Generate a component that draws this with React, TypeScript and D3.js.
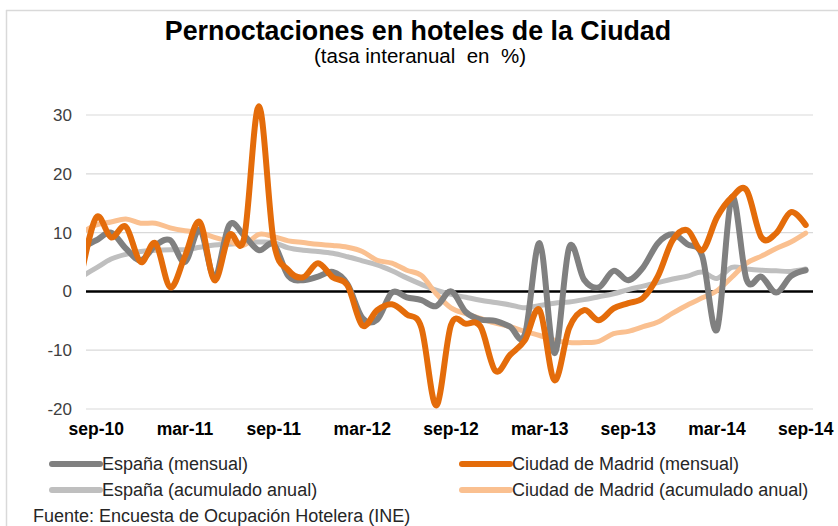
import React from "react";
import * as d3 from "d3";

const months = [
  "ago-10", "sep-10", "oct-10", "nov-10", "dic-10", "ene-11", "feb-11", "mar-11", "abr-11", "may-11",
  "jun-11", "jul-11", "ago-11", "sep-11", "oct-11", "nov-11", "dic-11", "ene-12", "feb-12", "mar-12",
  "abr-12", "may-12", "jun-12", "jul-12", "ago-12", "sep-12", "oct-12", "nov-12", "dic-12", "ene-13",
  "feb-13", "mar-13", "abr-13", "may-13", "jun-13", "jul-13", "ago-13", "sep-13", "oct-13", "nov-13",
  "dic-13", "ene-14", "feb-14", "mar-14", "abr-14", "may-14", "jun-14", "jul-14", "ago-14", "sep-14",
];

const tickMonths = ["sep-10", "mar-11", "sep-11", "mar-12", "sep-12", "mar-13", "sep-13", "mar-14", "sep-14"];
const yTicks = [30, 20, 10, 0, -10, -20];

const espanaMensual = [
  7.5, 8.7, 10.0, 7.3, 5.3, 7.8, 8.7, 5.0, 10.5, 2.5,
  11.3, 9.5, 7.0, 8.0, 2.6, 1.9, 2.5, 3.3, 1.2, -4.5,
  -4.8, -0.2, -1.0, -1.5, -2.5, 0.0, -3.5, -4.8, -5.0, -6.0,
  -7.3, 8.2, -10.5, 7.5, 2.0, 0.7, 3.5, 1.9, 4.1, 8.2,
  9.7, 8.0, 6.0, -6.5, 16.0, 2.0, 2.5, -0.2, 2.6, 3.6,
];

const madridMensual = [
  3.0, 12.6, 9.2, 11.0, 5.0, 8.2, 0.7, 6.0, 11.8, 1.9,
  9.6, 9.0, 31.5, 8.5, 3.6, 2.4, 4.8, 2.4, 1.0, -5.8,
  -3.2, -2.2, -3.9, -6.2, -19.4, -5.7, -5.5, -6.0, -13.5, -10.8,
  -8.3, -3.2, -15.1, -6.2, -3.2, -4.9, -2.9, -2.0, -1.1, 2.6,
  8.7, 10.4, 7.0, 12.6, 16.0, 17.2, 9.2, 9.9, 13.5, 11.3,
];

const espanaAcum = [
  2.5, 4.0, 5.5, 6.3, 6.8, 7.0, 7.1, 7.1, 7.5, 7.9,
  8.0, 8.3, 8.4, 8.3, 7.4, 7.0, 6.8, 6.5, 5.9, 5.2,
  4.5, 3.5, 2.3, 1.2, 0.2, -0.5, -1.0, -1.5, -1.9, -2.3,
  -2.8, -2.4, -2.0, -1.8, -1.4, -0.9, -0.4, 0.3, 0.9, 1.5,
  2.1, 2.6, 3.3, 2.2, 4.1, 3.8, 3.6, 3.5, 3.4, 3.8,
];

const madridAcum = [
  10.0, 11.3, 11.8, 12.3, 11.6, 11.6, 10.8, 10.3, 10.0, 9.2,
  8.5, 7.9, 9.7, 9.3, 8.6, 8.3, 8.0, 7.8, 7.5, 6.8,
  5.3, 4.8, 3.6, 2.7, -0.4, -2.8, -3.8, -4.6, -5.4, -6.0,
  -6.8, -7.5, -8.3, -8.7, -8.7, -8.5, -7.2, -6.8, -6.0, -5.2,
  -3.7, -2.3, -1.1, 0.1, 2.4, 4.8, 6.0, 7.3, 8.4, 9.9,
];

const seriesNames = [
  "España (mensual)",
  "Ciudad de Madrid (mensual)",
  "España (acumulado anual)",
  "Ciudad de Madrid (acumulado anual)",
];

const FONT = "'Liberation Sans', Arial, sans-serif";

export default function App() {
  const W = 838;
  const H = 526;
  const plotLeft = 86;
  const plotRight = 813;

  const x = d3.scalePoint<string>().domain(months).range([81.52, 805.7]);
  const y = d3.scaleLinear().domain([-20, 30]).range([409, 115]);

  const line = d3
    .line<number>()
    .x((_, i) => x(months[i]) as number)
    .y((d) => y(d))
    .curve(d3.curveCatmullRom.alpha(0));

  const series = [
    { name: seriesNames[2], data: espanaAcum, color: "#BFBFBF", width: 5 },
    { name: seriesNames[3], data: madridAcum, color: "#FAC090", width: 5 },
    { name: seriesNames[0], data: espanaMensual, color: "#808080", width: 6 },
    { name: seriesNames[1], data: madridMensual, color: "#E46C0A", width: 6 },
  ];

  const legend = [
    { name: seriesNames[0], color: "#808080", lx: 52, ly: 464 },
    { name: seriesNames[1], color: "#E46C0A", lx: 462, ly: 464 },
    { name: seriesNames[2], color: "#BFBFBF", lx: 52, ly: 490 },
    { name: seriesNames[3], color: "#FAC090", lx: 462, ly: 490 },
  ];

  return (
    <svg
      width={W}
      height={H}
      style={{ position: "absolute", left: 0, top: 0, background: "#fff" }}
      fontFamily={FONT}
    >
      <rect x={0} y={0} width={W} height={H} fill="#fff" />
      <line x1={6.5} y1={10} x2={6.5} y2={H} stroke="#D9D9D9" strokeWidth={1.5} />
      <line x1={6} y1={10.5} x2={W} y2={10.5} stroke="#D9D9D9" strokeWidth={1.5} />

      <text x={418} y={40} textAnchor="middle" fontSize={26.8} fontWeight="bold" fill="#000">
        Pernoctaciones en hoteles de la Ciudad
      </text>
      <text x={420} y={63} textAnchor="middle" fontSize={20.5} fill="#000" style={{ whiteSpace: "pre" }}>
        {"(tasa interanual  en  %)"}
      </text>

      <defs>
        <clipPath id="plotClip">
          <rect x={plotLeft} y={90} width={plotRight - plotLeft} height={340} />
        </clipPath>
      </defs>

      {yTicks.map((t) =>
        t === 0 ? null : (
          <line key={"g" + t} x1={plotLeft} x2={plotRight} y1={y(t)} y2={y(t)} stroke="#D9D9D9" strokeWidth={1.2} />
        )
      )}
      {yTicks.map((t) => (
        <text key={"yl" + t} x={72} y={y(t)} dy="0.35em" textAnchor="end" fontSize={17} fill="#404040">
          {t}
        </text>
      ))}
      <line x1={plotLeft} x2={plotRight} y1={y(0)} y2={y(0)} stroke="#000" strokeWidth={2.5} />

      <g clipPath="url(#plotClip)">
        {series.map((s) => (
          <path
            key={s.name}
            d={line(s.data) || ""}
            fill="none"
            stroke={s.color}
            strokeWidth={s.width}
            strokeLinejoin="round"
            strokeLinecap="round"
          />
        ))}
      </g>

      {tickMonths.map((m) => (
        <text key={m} x={x(m) as number} y={435} textAnchor="middle" fontSize={17.5} fontWeight="bold" fill="#000">
          {m}
        </text>
      ))}

      {legend.map((l) => (
        <g key={l.name}>
          <line x1={l.lx} x2={l.lx + 48} y1={l.ly} y2={l.ly} stroke={l.color} strokeWidth={6} strokeLinecap="round" />
          <text x={l.lx + 50} y={l.ly} dy="0.35em" fontSize={18} fill="#262626">
            {l.name}
          </text>
        </g>
      ))}

      <text x={33} y={522} fontSize={18} fill="#262626">
        Fuente: Encuesta de Ocupación Hotelera (INE)
      </text>
    </svg>
  );
}
